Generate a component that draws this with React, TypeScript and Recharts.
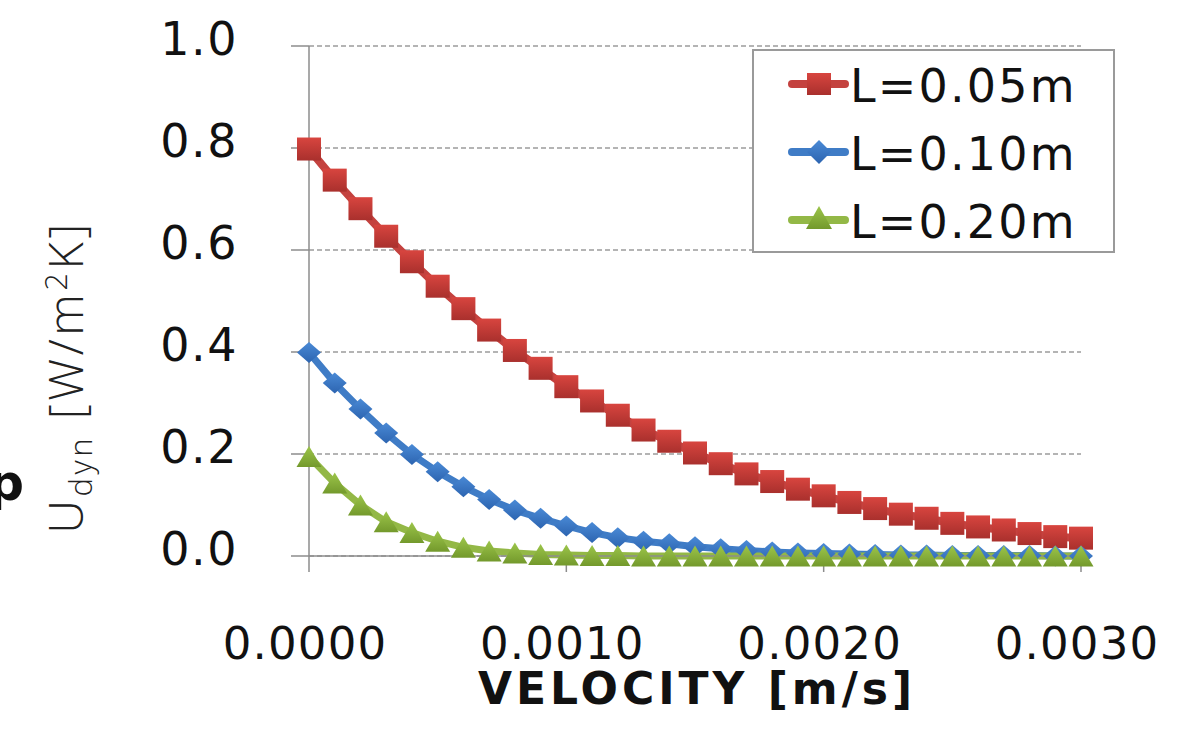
import React from 'react';
import { LineChart, Line, XAxis, YAxis, CartesianGrid, Legend } from 'recharts';

const velocities = [
  0, 0.0001, 0.0002, 0.0003, 0.0004, 0.0005, 0.0006, 0.0007, 0.0008, 0.0009,
  0.001, 0.0011, 0.0012, 0.0013, 0.0014, 0.0015, 0.0016, 0.0017, 0.0018, 0.0019,
  0.002, 0.0021, 0.0022, 0.0023, 0.0024, 0.0025, 0.0026, 0.0027, 0.0028, 0.0029, 0.003,
];
const l005 = [
  0.798, 0.737, 0.681, 0.627, 0.577, 0.529, 0.485, 0.443, 0.403, 0.368,
  0.332, 0.304, 0.276, 0.247, 0.225, 0.202, 0.181, 0.161, 0.146, 0.131,
  0.118, 0.105, 0.093, 0.082, 0.074, 0.064, 0.057, 0.051, 0.044, 0.038, 0.035,
];
const l010 = [
  0.399, 0.339, 0.288, 0.241, 0.199, 0.165, 0.136, 0.111, 0.09, 0.074,
  0.059, 0.046, 0.036, 0.029, 0.024, 0.018, 0.014, 0.011, 0.008, 0.006,
  0.005, 0.004, 0.003, 0.002, 0.002, 0.001, 0.001, 0.001, 0.001, 0.0, 0.0,
];
const l020 = [
  0.195, 0.143, 0.1, 0.067, 0.046, 0.029, 0.017, 0.01, 0.006, 0.003,
  0.002, 0.001, 0.001, 0.0, 0.0, 0.0, 0.0, 0.0, 0.0, 0.0,
  0.0, 0.0, 0.0, 0.0, 0.0, 0.0, 0.0, 0.0, 0.0, 0.0, 0.0,
];
const seriesNames = ['L=0.05m', 'L=0.10m', 'L=0.20m'];
const xTicks = [0, 0.001, 0.002, 0.003];
const yTicks = [0, 0.2, 0.4, 0.6, 0.8, 1.0];
const xTitle = 'VELOCITY [m/s]';

const data = velocities.map((v, i) => ({ v, a: l005[i], b: l010[i], c: l020[i] }));

const RED = '#c4423f';
const BLUE = '#3f7cc6';
const GREEN = '#93b846';
const AXIS = '#8c8c8c';
const FONT = 'DejaVu Sans, Verdana, sans-serif';

const SquareDot = (p: any) => {
  if (p.cx == null || p.cy == null) return <g key={`s${p.index}`} />;
  return <rect key={`s${p.index}`} x={p.cx - 12} y={p.cy - 11.5} width={24} height={23} fill="url(#gRed)" />;
};
const DiamondDot = (p: any) => {
  if (p.cx == null || p.cy == null) return <g key={`d${p.index}`} />;
  const { cx, cy } = p;
  return (
    <path key={`d${p.index}`} d={`M${cx},${cy - 10.5} L${cx + 12},${cy} L${cx},${cy + 10.5} L${cx - 12},${cy} Z`} fill="url(#gBlue)" />
  );
};
const TriangleDot = (p: any) => {
  if (p.cx == null || p.cy == null) return <g key={`t${p.index}`} />;
  const { cx, cy } = p;
  return (
    <path key={`t${p.index}`} d={`M${cx},${cy - 10.5} L${cx + 12.5},${cy + 10.5} L${cx - 12.5},${cy + 10.5} Z`} fill="url(#gGreen)" />
  );
};

const YTick = (p: any) => (
  <text x={p.x} y={p.y} dy={9} textAnchor="end" fontFamily={FONT} fontSize={46} letterSpacing={1.5} fill="#111">
    {Number(p.payload.value).toFixed(1)}
  </text>
);
const XTick = (p: any) => (
  <text x={p.x} y={p.y} dx={-4} dy={87} textAnchor="middle" fontFamily={FONT} fontSize={45} letterSpacing={1.2} fill="#111">
    {Number(p.payload.value).toFixed(4)}
  </text>
);

const LegendBox = () => {
  const rows = [
    { name: seriesNames[0], color: RED, y: 35, kind: 's' },
    { name: seriesNames[1], color: BLUE, y: 103, kind: 'd' },
    { name: seriesNames[2], color: GREEN, y: 171, kind: 't' },
  ];
  return (
    <svg width={363} height={204} style={{ display: 'block' }}>
      <rect x={1} y={1} width={361} height={202} fill="#fff" stroke="#9a9a9a" strokeWidth={2} />
      {rows.map((r) => (
        <g key={r.name}>
          <line x1={40} x2={93} y1={r.y} y2={r.y} stroke={r.color} strokeWidth={8} strokeLinecap="round" />
          {r.kind === 's' && <rect x={55} y={r.y - 11} width={24} height={22} fill="url(#gRed)" />}
          {r.kind === 'd' && (
            <path d={`M67,${r.y - 12} L79,${r.y} L67,${r.y + 12} L55,${r.y} Z`} fill="url(#gBlue)" />
          )}
          {r.kind === 't' && (
            <path d={`M67,${r.y - 14} L80,${r.y + 9} L54,${r.y + 9} Z`} fill="url(#gGreen)" />
          )}
          <text x={98} y={r.y + 18} fontFamily={FONT} fontSize={46} letterSpacing={2.2} fill="#111">
            {r.name}
          </text>
        </g>
      ))}
    </svg>
  );
};

export default function App() {
  return (
    <div style={{ position: 'absolute', left: 0, top: 0, width: 1185, height: 729, background: '#fff' }}>
      <LineChart width={1185} height={729} data={data} margin={{ top: 46, right: 104, bottom: 0, left: 0 }}>
        <defs>
          <linearGradient id="gRed" x1="0" y1="0" x2="0" y2="1">
            <stop offset="0%" stopColor="#d8453f" />
            <stop offset="100%" stopColor="#a9302d" />
          </linearGradient>
          <linearGradient id="gBlue" x1="0" y1="0" x2="0" y2="1">
            <stop offset="0%" stopColor="#4a8ad6" />
            <stop offset="100%" stopColor="#2c64b0" />
          </linearGradient>
          <linearGradient id="gGreen" x1="0" y1="0" x2="0" y2="1">
            <stop offset="0%" stopColor="#9cc54a" />
            <stop offset="100%" stopColor="#73992c" />
          </linearGradient>
        </defs>
        <CartesianGrid horizontal vertical={false} stroke="#9c9c9c" strokeDasharray="5 3" strokeWidth={1.5} />
        <XAxis
          dataKey="v"
          type="number"
          domain={[0, 0.003]}
          ticks={xTicks}
          height={173}
          tickSize={16}
          tickMargin={0}
          axisLine={{ stroke: AXIS, strokeWidth: 1.5 }}
          tickLine={{ stroke: AXIS, strokeWidth: 1.5 }}
          tick={<XTick />}
          interval={0}
        />
        <YAxis
          type="number"
          domain={[0, 1]}
          ticks={yTicks}
          width={309}
          tickSize={18}
          tickMargin={53}
          axisLine={{ stroke: AXIS, strokeWidth: 1.5 }}
          tickLine={{ stroke: AXIS, strokeWidth: 1.5 }}
          tick={<YTick />}
          interval={0}
        />
        <Legend
          layout="vertical"
          align="center"
          verticalAlign="middle"
          content={() => <LegendBox />}
          wrapperStyle={{ left: 752, top: 49, width: 363, height: 204 }}
        />
        <Line dataKey="a" name={seriesNames[0]} stroke={RED} strokeWidth={8} dot={SquareDot} activeDot={false} isAnimationActive={false} />
        <Line dataKey="b" name={seriesNames[1]} stroke={BLUE} strokeWidth={7} dot={DiamondDot} activeDot={false} isAnimationActive={false} />
        <Line dataKey="c" name={seriesNames[2]} stroke={GREEN} strokeWidth={7} dot={TriangleDot} activeDot={false} isAnimationActive={false} />
      </LineChart>
      <svg width={1185} height={729} style={{ position: 'absolute', left: 0, top: 0, pointerEvents: 'none' }}>
        <text x={697} y={704} textAnchor="middle" fontFamily={FONT} fontWeight="bold" fontSize={44} letterSpacing={4} fill="#111">
          {xTitle}
        </text>
        <text
          x={83}
          y={377}
          transform="rotate(-90 83 377)"
          textAnchor="middle"
          fontFamily="'Open Sans', Lato, sans-serif"
          fontWeight={300}
          fontSize={47}
          letterSpacing={3.5}
          fill="#222"
        >
          U<tspan dy={9} fontSize={31}>dyn</tspan>
          <tspan dy={-9}> [W/m</tspan>
          <tspan dy={-16} fontSize={31}>2</tspan>
          <tspan dy={16}>K]</tspan>
        </text>
        <text x={24} y={500} textAnchor="end" fontFamily={FONT} fontWeight="bold" fontSize={50} fill="#111">
          p
        </text>
      </svg>
    </div>
  );
}
